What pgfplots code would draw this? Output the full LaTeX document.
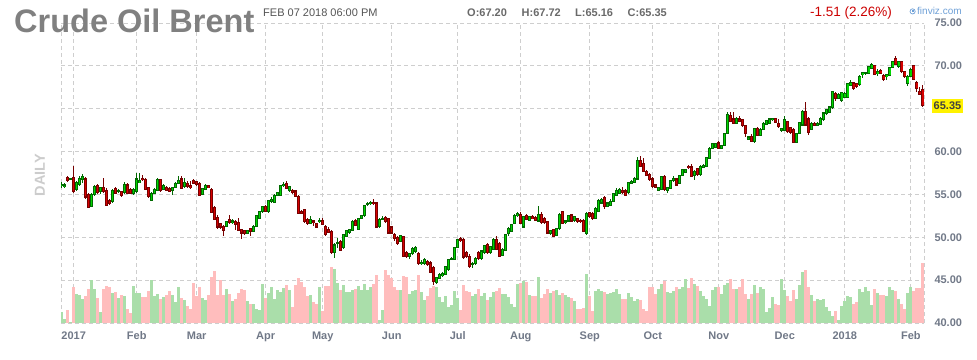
\documentclass[border=0pt]{standalone}
\usepackage{pgfplots}
\pgfplotsset{compat=1.18}
\usepackage{pgfplotstable}
\usepackage{fontspec}
\setmainfont{Liberation Sans}
\definecolor{upfill}{RGB}{0,215,0}
\definecolor{upline}{RGB}{0,105,0}
\definecolor{dnfill}{RGB}{215,0,0}
\definecolor{dnline}{RGB}{120,0,0}
\definecolor{volup}{RGB}{170,222,170}
\definecolor{voldn}{RGB}{255,189,189}
\definecolor{gridc}{RGB}{206,206,206}
\definecolor{axlab}{RGB}{112,120,135}
\definecolor{titlec}{RGB}{128,128,128}
\definecolor{infoc}{RGB}{105,105,105}
\definecolor{chg}{RGB}{204,0,0}
\definecolor{fvz}{RGB}{110,160,215}
\pgfplotsset{candle/.style={only marks, mark=*, mark size=0pt, mark options={draw=none, fill=none}, forget plot,
  error bars/.cd, y dir=both, y explicit, error mark=none}}

\pgfplotstableread{
x o h l c v
0 56.0 56.4 55.8 56.2 26
1 55.9 56.3 55.7 56.1 10
2 57.0 57.2 56.4 56.6 30
3 56.8 56.9 56.7 56.8 3
4 57.0 58.3 55.2 55.3 83
5 55.6 56.6 55.4 56.4 67
6 56.2 57.2 56.0 56.9 65
7 56.8 57.4 56.3 57.1 55
8 56.8 57.0 54.5 54.7 63
9 55.0 55.2 53.4 53.5 79
10 53.6 55.2 53.5 55.0 100
11 55.0 56.1 54.8 55.9 79
12 56.0 56.2 55.0 55.2 58
13 55.3 55.9 55.1 55.8 25
14 55.8 56.9 55.2 55.3 79
15 55.5 55.7 53.6 53.7 86
16 54.3 54.5 53.8 53.9 84
17 54.2 55.6 54.0 55.5 70
18 55.7 55.9 55.0 55.1 72
19 55.3 55.6 55.2 55.4 59
20 55.3 55.4 54.7 54.9 65
21 55.2 56.5 55.1 56.2 62
22 56.1 56.3 55.0 55.1 32
23 55.6 55.7 55.0 55.1 23
24 55.1 55.8 54.9 55.6 86
25 55.3 57.5 55.2 56.8 71
26 56.4 57.5 56.3 56.6 69
27 56.9 57.3 56.6 56.7 61
28 56.7 56.9 55.5 55.6 61
29 55.8 55.9 54.6 54.8 74
30 54.3 55.3 54.2 55.1 100
31 55.1 55.8 55.0 55.6 62
32 55.5 56.9 55.4 56.7 67
33 56.7 56.8 55.3 55.5 55
34 55.6 56.2 55.5 56.0 61
35 55.8 56.0 55.4 55.5 65
36 55.7 55.9 55.3 55.4 74
37 55.5 55.9 54.9 55.8 65
38 55.8 56.5 55.7 56.3 48
39 56.3 57.2 56.2 56.6 84
40 56.8 57.1 55.6 55.7 58
41 55.9 56.9 55.7 56.4 53
42 56.3 56.6 55.8 55.9 39
43 56.0 56.6 55.6 55.8 32
44 56.6 56.8 56.2 56.3 94
45 56.5 56.6 56.0 56.2 63
46 56.3 56.4 54.8 54.9 84
47 55.0 55.8 54.9 55.7 58
48 55.6 56.2 55.5 56.0 53
49 56.0 56.1 55.7 55.8 65
50 55.6 55.7 52.8 52.9 108
51 53.5 53.6 52.0 52.1 121
52 52.3 52.6 51.0 51.2 65
53 51.6 51.7 51.0 51.2 100
54 51.3 51.4 50.2 50.8 66
55 51.3 51.9 51.2 51.8 79
56 52.1 52.6 51.6 51.7 67
57 51.7 52.1 51.6 51.9 51
58 51.8 52.0 50.9 51.5 55
59 51.7 52.2 50.7 50.8 70
60 50.9 51.0 49.8 50.5 79
61 50.8 50.9 50.3 50.5 77
62 50.5 50.9 50.4 50.8 51
63 51.0 51.1 50.1 50.7 45
64 50.7 51.4 50.6 51.3 44
65 51.3 52.6 51.2 52.5 32
66 52.2 53.1 52.1 53.0 30
67 53.0 53.7 52.8 53.6 92
68 53.6 53.8 52.9 53.0 58
69 53.0 54.4 52.8 54.3 71
70 54.2 54.7 54.0 54.4 83
71 54.1 55.0 54.0 54.9 55
72 54.9 55.3 54.8 55.2 76
73 54.9 56.1 54.8 56.0 72
74 56.0 56.4 55.9 56.2 82
75 56.3 56.6 55.6 55.7 89
76 55.5 56.0 55.3 55.9 76
77 55.5 55.6 55.1 55.2 37
78 55.4 55.5 54.7 54.8 88
79 54.8 54.9 52.7 52.8 105
80 53.0 53.2 52.7 52.8 95
81 53.2 53.3 51.7 51.8 84
82 52.1 52.2 51.4 51.6 62
83 51.6 52.5 51.5 52.1 65
84 51.9 52.0 51.3 51.7 48
85 51.6 51.7 51.1 51.2 44
86 51.8 52.2 51.7 52.0 83
87 52.0 52.3 51.4 51.5 27
88 51.3 51.4 50.2 50.3 86
89 50.9 51.2 50.5 50.6 86
90 50.7 50.8 48.1 48.2 130
91 48.2 49.3 47.6 49.1 127
92 49.3 49.9 48.8 49.4 94
93 49.5 49.7 48.4 48.5 78
94 48.8 50.4 48.6 50.3 88
95 50.1 50.9 50.0 50.8 73
96 50.6 51.0 50.4 50.9 72
97 50.8 52.0 50.7 51.8 76
98 51.9 52.1 51.3 51.4 80
99 50.9 52.3 50.8 52.2 86
100 52.2 52.6 52.1 52.5 78
101 52.5 53.8 52.4 53.7 90
102 53.8 54.1 53.6 53.9 78
103 53.9 54.2 53.8 54.1 84
104 54.1 54.5 53.8 53.9 90
105 54.0 54.1 51.1 51.2 111
106 51.3 52.2 51.1 52.1 6
107 52.1 52.5 52.0 52.2 31
108 52.3 52.5 51.7 51.8 123
109 52.2 52.3 50.4 50.5 111
110 51.2 51.3 50.4 50.5 106
111 50.3 50.5 49.6 49.9 84
112 50.0 50.1 49.1 49.3 78
113 49.5 50.3 49.4 50.2 78
114 50.1 50.2 47.7 47.8 109
115 48.2 48.4 47.6 47.8 108
116 47.8 48.2 47.5 48.1 67
117 48.1 48.9 47.9 48.7 74
118 48.3 49.0 48.2 48.8 76
119 48.1 48.3 46.8 46.9 111
120 46.9 47.4 46.8 47.1 72
121 46.95 47.6 46.8 47.4 53
122 47.2 47.4 46.7 46.8 62
123 47.0 47.2 45.8 45.9 82
124 46.5 46.6 44.4 44.8 86
125 44.75 45.4 44.5 45.3 84
126 45.2 45.8 45.1 45.7 61
127 45.5 46.0 45.4 45.8 48
128 45.7 46.7 45.6 46.6 62
129 46.2 47.5 46.1 47.4 37
130 47.4 47.7 47.3 47.5 41
131 47.4 48.9 47.3 48.8 74
132 48.8 49.8 48.7 49.7 58
133 49.8 50.0 49.5 49.6 30
134 49.7 49.9 47.5 47.7 88
135 48.2 48.4 47.6 47.8 74
136 47.8 48.0 46.4 46.6 72
137 46.8 47.1 46.4 46.9 63
138 46.9 47.7 46.8 47.5 67
139 48.2 48.4 47.4 47.5 80
140 47.5 48.5 47.4 48.4 62
141 48.2 49.1 48.1 49.0 69
142 49.2 49.3 48.1 48.2 53
143 48.2 49.0 48.1 48.9 61
144 48.6 49.9 48.5 49.7 72
145 49.7 50.2 48.5 48.6 74
146 49.3 49.4 47.7 47.8 82
147 47.9 48.8 47.8 48.6 67
148 48.5 50.4 48.4 50.3 67
149 50.4 51.2 50.2 51.0 60
150 50.7 51.6 50.6 51.5 44
151 51.6 52.7 51.5 52.5 37
152 52.5 53.0 52.4 52.8 90
153 52.7 52.9 51.5 51.6 94
154 51.2 52.5 51.1 52.4 99
155 52.5 52.7 52.0 52.1 95
156 52.0 52.5 51.9 52.4 65
157 52.4 52.6 52.1 52.2 62
158 52.3 52.5 51.9 52.0 62
159 51.9 53.6 51.8 52.7 107
160 52.7 52.9 51.6 51.7 58
161 52.2 52.4 51.6 51.7 67
162 51.8 51.9 50.4 50.5 79
163 50.5 50.9 50.3 50.8 70
164 50.9 51.0 50.0 50.1 75
165 50.2 51.1 50.1 51.0 78
166 51.0 52.8 50.9 52.7 65
167 53.0 53.1 51.5 51.6 70
168 51.7 52.0 51.6 51.9 65
169 51.9 52.6 51.8 52.5 61
170 52.6 52.7 51.8 51.9 59
171 52.0 52.5 51.8 52.4 51
172 52.2 52.3 51.7 51.8 33
173 52.0 52.1 51.7 51.8 33
174 52.0 52.1 50.6 50.7 35
175 50.4 52.9 50.3 52.8 114
176 52.9 53.0 52.2 52.4 64
177 52.8 52.9 52.0 52.2 29
178 52.2 53.5 52.1 53.4 75
179 53.0 54.5 52.9 54.3 79
180 54.0 54.6 53.9 54.4 75
181 54.6 54.8 53.3 53.6 73
182 53.6 54.1 53.5 54.0 68
183 53.7 54.5 53.6 54.2 71
184 54.2 55.2 54.1 55.1 72
185 54.9 55.7 54.8 55.5 80
186 55.1 55.8 55.0 55.6 67
187 55.5 55.9 55.1 55.2 56
188 55.4 55.6 54.8 54.9 56
189 55.2 56.5 55.1 56.4 71
190 56.3 56.7 56.2 56.5 61
191 56.4 57.0 56.3 56.9 51
192 56.8 59.4 56.7 59.0 55
193 59.0 59.5 58.2 58.3 53
194 58.6 59.2 57.6 57.7 33
195 57.7 57.9 57.1 57.2 29
196 57.3 57.5 56.6 56.7 83
197 56.8 57.0 55.8 55.9 85
198 56.1 56.2 55.7 55.8 67
199 55.5 55.9 55.4 55.8 80
200 55.6 57.2 55.5 57.1 92
201 57.1 57.3 55.4 55.6 98
202 55.5 55.9 55.2 55.8 73
203 55.7 56.7 55.6 56.6 71
204 56.6 57.1 56.5 56.9 75
205 56.8 56.9 56.0 56.1 83
206 56.3 57.3 56.2 57.2 80
207 57.2 58.0 57.1 57.9 83
208 57.6 58.0 57.5 57.9 102
209 58.3 58.4 58.0 58.1 81
210 58.2 58.5 57.0 57.1 105
211 57.2 57.8 56.7 57.7 91
212 58.0 58.1 57.2 57.3 87
213 57.3 58.4 57.2 58.3 75
214 58.2 58.5 58.1 58.4 63
215 58.3 59.4 58.2 59.3 56
216 59.2 60.5 59.1 60.4 40
217 60.4 61.0 60.3 60.9 76
218 60.5 61.0 60.4 60.9 84
219 61.0 61.2 60.3 60.4 83
220 60.4 60.8 60.3 60.7 67
221 60.7 62.2 60.6 62.1 88
222 62.1 64.6 62.0 64.3 94
223 64.2 64.6 63.4 63.5 102
224 63.8 64.6 63.2 63.3 79
225 63.3 64.0 63.2 63.9 80
226 63.8 64.2 63.4 63.5 83
227 63.7 63.8 62.9 63.0 102
228 63.0 63.1 61.7 62.1 68
229 61.4 61.8 61.3 61.7 55
230 61.8 62.0 61.1 61.2 67
231 61.2 62.8 61.0 62.7 88
232 62.7 62.9 61.8 61.9 69
233 61.9 62.7 61.8 62.6 83
234 62.6 63.4 62.5 63.3 79
235 63.2 63.7 63.1 63.6 25
236 63.3 63.9 63.2 63.8 36
237 63.7 63.9 63.6 63.85 60
238 63.85 63.95 63.3 63.4 45
239 63.3 63.8 62.7 62.9 43
240 62.5 62.8 62.3 62.7 102
241 62.5 64.2 62.4 63.7 76
242 63.5 63.6 62.2 62.3 63
243 62.8 62.9 62.0 62.2 52
244 62.6 62.7 61.1 61.1 76
245 61.1 62.2 61.0 62.1 57
246 62.1 63.5 62.0 63.4 88
247 63.1 64.8 63.0 64.7 118
248 64.7 65.8 63.0 63.1 124
249 63.8 64.0 61.9 62.2 85
250 62.6 63.4 62.5 63.3 66
251 63.3 63.5 63.0 63.1 52
252 63.1 63.4 63.0 63.3 57
253 63.2 64.0 63.1 63.9 53
254 63.7 64.6 63.6 64.5 55
255 64.4 65.0 64.3 64.9 37
256 64.6 65.3 64.5 65.2 27
257 65.1 67.1 65.0 67.0 17
258 66.8 67.0 65.9 66.2 29
259 66.2 66.8 66.1 66.7 7
260 66.0 67.0 65.8 66.9 39
261 66.35 66.9 66.2 66.8 51
262 66.3 68.0 66.2 67.9 64
263 67.7 68.3 67.6 68.1 60
264 68.0 68.1 67.2 67.4 45
265 67.9 68.0 67.4 67.6 49
266 67.8 68.9 67.7 68.8 79
267 69.0 69.3 68.6 69.2 73
268 69.1 69.3 68.9 69.2 83
269 69.1 70.0 69.0 69.9 74
270 69.7 70.3 69.6 70.2 43
271 70.0 70.1 68.9 69.0 79
272 69.15 69.6 68.8 69.3 69
273 69.5 69.6 69.0 69.1 66
274 68.9 69.0 68.2 68.4 66
275 68.75 69.0 68.4 68.95 62
276 68.9 69.9 68.8 69.8 83
277 69.8 70.6 69.7 70.5 76
278 70.9 71.1 70.1 70.2 74
279 69.9 70.6 69.8 70.5 55
280 70.5 70.6 69.2 69.3 45
281 69.3 69.4 68.6 68.8 33
282 67.9 68.9 67.7 68.8 71
283 68.8 69.7 68.7 69.6 84
284 70.0 70.0 68.3 68.4 74
285 68.1 68.2 67.0 67.4 81
286 67.0 67.5 66.6 66.7 81
287 67.20 67.72 65.16 65.35 141
}\data

\begin{document}
\begin{tikzpicture}[x=1pt,y=1pt]
\path[use as bounding box] (0,0) rectangle (977,359);
\begin{axis}[
  at={(61pt,36pt)}, anchor=south west,
  scale only axis, width=863.3pt, height=300pt,
  xmin=-0.23, xmax=287.5, ymin=40, ymax=75,
  axis line style={draw=none},
  major tick length=0pt,
  xtick={4,25,45,68,87,110,132,153,176,197,219,241,261,283},
  xticklabels={2017,Feb,Mar,Apr,May,Jun,Jul,Aug,Sep,Oct,Nov,Dec,2018,Feb},
  extra x ticks={-0.23,287.5},
  extra x tick labels={,},
  extra x tick style={grid=major, major tick length=0pt},
  ytick={40,45,50,55,60,65,70,75},
  yticklabels={40.00,45.00,50.00,55.00,60.00,,70.00,75.00},
  yticklabel pos=right,
  grid=major,
  grid style={draw=gridc, line width=1pt, dash pattern=on 4pt off 3pt},
  xticklabel style={font=\fontsize{11pt}{13pt}\selectfont\bfseries, text=axlab, anchor=base, inner sep=0pt, yshift=-16pt},
  yticklabel style={font=\fontsize{11pt}{13pt}\selectfont\bfseries, text=axlab, anchor=west, inner sep=0pt, xshift=10pt},
  clip=true,
]
% volume
\addplot[ycomb, draw=volup, line width=3pt, mark=none, forget plot]
  table[x=x, y expr={\thisrow{c}>=\thisrow{o} ? 40+\thisrow{v}/20 : nan}] {\data};
\addplot[ycomb, draw=voldn, line width=3pt, mark=none, forget plot]
  table[x=x, y expr={\thisrow{c}<\thisrow{o} ? 40+\thisrow{v}/20 : nan}] {\data};
% wicks
\addplot[candle, error bar style={draw=upline, line width=0.9pt, line cap=butt, solid}]
  table[x=x, y expr={\thisrow{c}>=\thisrow{o} ? (\thisrow{h}+\thisrow{l})/2 : nan},
        y error expr={(\thisrow{h}-\thisrow{l})/2}] {\data};
\addplot[candle, error bar style={draw=dnline, line width=0.9pt, line cap=butt, solid}]
  table[x=x, y expr={\thisrow{c}<\thisrow{o} ? (\thisrow{h}+\thisrow{l})/2 : nan},
        y error expr={(\thisrow{h}-\thisrow{l})/2}] {\data};
% bodies: outline
\addplot[candle, error bar style={draw=upline, line width=2.8pt, line cap=butt, solid}]
  table[x=x, y expr={\thisrow{c}>=\thisrow{o} ? (\thisrow{o}+\thisrow{c})/2 : nan},
        y error expr={abs(\thisrow{c}-\thisrow{o})/2+0.06}] {\data};
\addplot[candle, error bar style={draw=dnline, line width=2.8pt, line cap=butt, solid}]
  table[x=x, y expr={\thisrow{c}<\thisrow{o} ? (\thisrow{o}+\thisrow{c})/2 : nan},
        y error expr={abs(\thisrow{c}-\thisrow{o})/2+0.06}] {\data};
% bodies: fill
\addplot[candle, error bar style={draw=upfill, line width=1.4pt, line cap=butt, solid}]
  table[x=x, y expr={\thisrow{c}>=\thisrow{o} ? (\thisrow{o}+\thisrow{c})/2 : nan},
        y error expr={max(abs(\thisrow{c}-\thisrow{o})/2-0.06,0)}] {\data};
\addplot[candle, error bar style={draw=dnfill, line width=1.4pt, line cap=butt, solid}]
  table[x=x, y expr={\thisrow{c}<\thisrow{o} ? (\thisrow{o}+\thisrow{c})/2 : nan},
        y error expr={max(abs(\thisrow{c}-\thisrow{o})/2-0.06,0)}] {\data};
\end{axis}
% header texts
\node[anchor=base west, inner sep=0pt, text=titlec, font=\fontsize{32.5pt}{36pt}\selectfont\bfseries] at (14,326) {Crude Oil Brent};
\node[anchor=base west, inner sep=0pt, text=infoc!80!black, font=\fontsize{11pt}{13pt}\selectfont] at (263,342) {FEB 07 2018 06:00 PM};
\node[anchor=base west, inner sep=0pt, text=infoc, font=\fontsize{11pt}{13pt}\selectfont\bfseries] at (467,342) {O:67.20};
\node[anchor=base west, inner sep=0pt, text=infoc, font=\fontsize{11pt}{13pt}\selectfont\bfseries] at (521.5,342) {H:67.72};
\node[anchor=base west, inner sep=0pt, text=infoc, font=\fontsize{11pt}{13pt}\selectfont\bfseries] at (575,342) {L:65.16};
\node[anchor=base west, inner sep=0pt, text=infoc, font=\fontsize{11pt}{13pt}\selectfont\bfseries] at (627.5,342) {C:65.35};
\node[anchor=base west, inner sep=0pt, text=chg, font=\fontsize{13.5pt}{15pt}\selectfont] at (810,342) {-1.51 (2.26\%)};
\draw[fvz, line width=0.7pt] (912.6,347.6) circle (2.6);
\fill[fvz] (911.6,346.6) rectangle (913.6,348.6);
\node[anchor=base west, inner sep=0pt, text=fvz, font=\fontsize{10pt}{12pt}\selectfont] at (917,344) {finviz.com};
% side label
\node[rotate=90, inner sep=0pt, text=black!20, font=\fontsize{14.5pt}{16pt}\selectfont\bfseries] at (40,184) {DAILY};
% last price tag
\node[fill=yellow, inner sep=0pt, minimum width=31.6pt, minimum height=13.4pt, text=black!75, font=\fontsize{11pt}{13pt}\selectfont\bfseries] at (947.5,253) {65.35};
\end{tikzpicture}
\end{document}
